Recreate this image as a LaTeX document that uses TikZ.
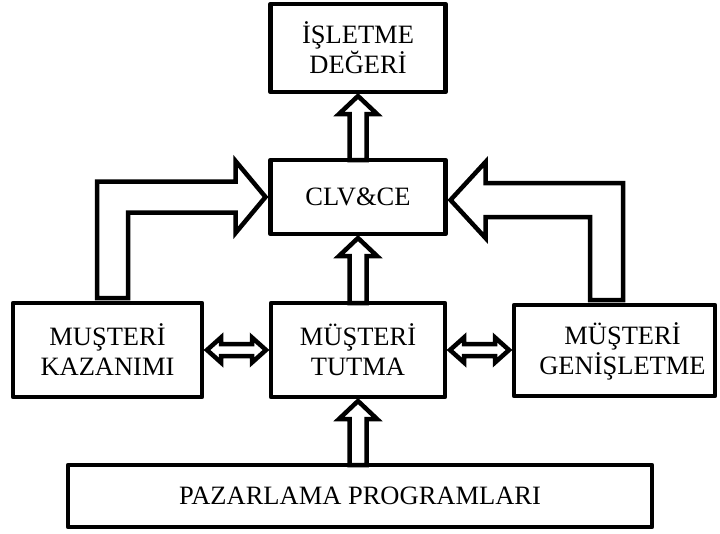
\documentclass[tikz,border=0pt]{standalone}
\usepackage{fontspec}
\setmainfont{Liberation Serif}
\usetikzlibrary{calc}
\begin{document}
\begin{tikzpicture}[x=1pt,y=-1pt,
  txt/.style={inner sep=0pt,outer sep=0pt,align=center,font=\fontsize{26.5}{30}\selectfont},
  box/.style={txt,draw,line width=4.5pt,line join=round,rectangle},
  blk/.style={draw,fill=white,line width=4.5pt,line join=miter},
  % hollow upward block arrow from a lower box to the box above it
  uparrow/.style={to path={($(\tikztostart)+(-8.5,0)$) -- ($(\tikztotarget)+(-8.5,22)$)
    -- ++(-10.5,0) -- ($(\tikztotarget)+(0,4)$) -- ($(\tikztotarget)+(19,22)$)
    -- ++(-10.5,0) -- ($(\tikztostart)+(8.5,0)$) -- cycle}},
  % hollow two-headed block arrow between two side-by-side boxes
  twoway/.style={to path={($(\tikztostart)+(5,0)$) -- ++(14,-12.5) -- ++(0,6.5)
    -- ($(\tikztotarget)+(-19,-6)$) -- ++(0,-6.5) -- ($(\tikztotarget)+(-5,0)$)
    -- ++(-14,12.5) -- ++(0,-6.5) -- ($(\tikztostart)+(19,6)$) -- ++(0,6.5) -- cycle}}]
\useasboundingbox (0,0) rectangle (720,533);

\node[box,minimum width=175,minimum height=88] (value) at (358,48) {İŞLETME\\DEĞERİ};
\node[box,minimum width=175,minimum height=74] (clv) at (358,197) {CLV\&CE};
\node[box,minimum width=189,minimum height=94] (acq) at (107.5,350) {MUŞTERİ\\KAZANIMI};
\node[box,minimum width=174,minimum height=94] (ret) at (358,350) {MÜŞTERİ\\TUTMA};
\node[box,minimum width=201,minimum height=91] (ext) at (614.5,350.5) {};
\node[txt] (extlabel) at ($(ext.center)+(8,1)$) {MÜŞTERİ\\GENİŞLETME};
\node[box,minimum width=584,minimum height=62] (prog) at (360,496) {PAZARLAMA PROGRAMLARI};

% vertical arrows
\draw[blk,uparrow] (clv.north) to (value.south);
\draw[blk,uparrow] (ret.north) to (clv.south);
\draw[blk,uparrow] (prog.north -| ret.south) to (ret.south);

% two-headed arrows
\draw[blk,twoway] (acq.east) to (acq.east -| ret.west);
\draw[blk,twoway] (ret.east) to (ret.east -| ext.west);

% bent arrow from acquisition
\draw[blk] ($(acq.north)+(-10.5,-5)$) |- ($(clv.west)+(-35,-15.5)$)
  -- ($(clv.west)+(-35,-36)$) -- ($(clv.west)+(-5,0)$) -- ($(clv.west)+(-35,36)$)
  -- ($(clv.west)+(-35,15.5)$) -| ($(acq.north)+(20.5,-5)$) -- cycle;

% bent arrow from expansion
\draw[blk] ($(ext.north)+(8.5,-5)$) |- ($(clv.east)+(40,-14)$)
  -- ($(clv.east)+(40,-35)$) -- ($(clv.east)+(5,3)$) -- ($(clv.east)+(40,41)$)
  -- ($(clv.east)+(40,20)$) -| ($(ext.north)+(-24.5,-5)$) -- cycle;
\end{tikzpicture}
\end{document}
